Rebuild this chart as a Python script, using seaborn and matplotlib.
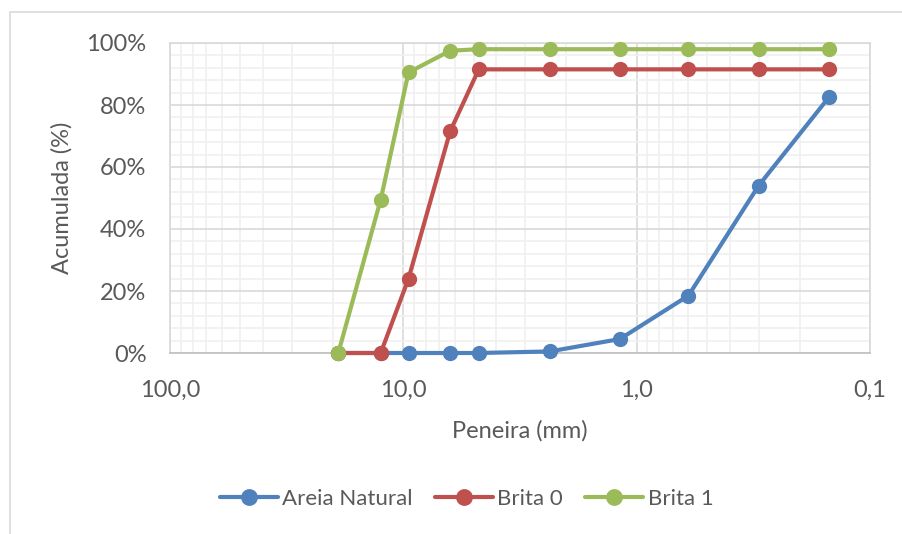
import matplotlib
matplotlib.use("Agg")
import matplotlib.pyplot as plt
import seaborn as sns
import pandas as pd
from matplotlib.ticker import FixedLocator, FuncFormatter, MultipleLocator, LogLocator, NullFormatter
from matplotlib.patches import Rectangle

# sieve openings (mm) and cumulative retained fraction
peneiras = [19.0, 12.5, 9.5, 6.3, 4.75, 2.36, 1.18, 0.6, 0.3, 0.15]
areia_natural = [0.0, 0.0, 0.0, 0.0, 0.0, 0.005, 0.045, 0.185, 0.54, 0.825]
brita_0 = [0.0, 0.0, 0.24, 0.715, 0.915, 0.915, 0.915, 0.915, 0.915, 0.915]
brita_1 = [0.0, 0.495, 0.905, 0.975, 0.98, 0.98, 0.98, 0.98, 0.98, 0.98]

series_names = ["Areia Natural", "Brita 0", "Brita 1"]
series_values = [areia_natural, brita_0, brita_1]
series_colors = ["#4F81BD", "#C0504D", "#9BBB59"]

x_ticks = [100, 10, 1, 0.1]
x_tick_labels = ["100,0", "10,0", "1,0", "0,1"]

sns.set_style("white")
plt.rcParams["font.family"] = ["Lato", "DejaVu Sans"]

fig = plt.figure(figsize=(9.02, 5.34), dpi=100)
ax = fig.add_axes([170 / 902, 1 - 353 / 534, 700 / 902, 310 / 534])

# outer chart border
fig.patches.append(Rectangle((10 / 902, -0.01), 1.0, 1 - 12 / 534 + 0.01,
                             transform=fig.transFigure, fill=False,
                             edgecolor="#D9D9D9", linewidth=1.2, zorder=0))

for name, vals, col in zip(series_names, series_values, series_colors):
    df = pd.DataFrame({"Peneira": peneiras, "Acumulada": vals})
    sns.lineplot(data=df, x="Peneira", y="Acumulada", ax=ax, color=col,
                 marker="o", markersize=11, linewidth=3, markeredgewidth=0,
                 label=name, clip_on=False, zorder=3)

ax.set_xscale("log")
ax.set_xlim(100, 0.1)
ax.set_ylim(0, 1)

ax.xaxis.set_major_locator(FixedLocator(x_ticks))
ax.xaxis.set_major_formatter(FuncFormatter(
    lambda v, p: dict(zip([round(t, 3) for t in x_ticks], x_tick_labels)).get(round(v, 3), "")))
ax.xaxis.set_minor_locator(LogLocator(base=10, subs=range(2, 10)))
ax.xaxis.set_minor_formatter(NullFormatter())
ax.yaxis.set_major_locator(MultipleLocator(0.2))
ax.yaxis.set_minor_locator(MultipleLocator(0.04))
ax.yaxis.set_major_formatter(FuncFormatter(lambda v, p: f"{v * 100:.0f}%"))

ax.grid(which="major", color="#D9D9D9", linewidth=1.2)
ax.grid(which="minor", color="#F0F0F0", linewidth=1.2)
ax.set_axisbelow(True)

for side in ["top", "right", "left", "bottom"]:
    ax.spines[side].set_visible(True)
    ax.spines[side].set_color("#D9D9D9")
    ax.spines[side].set_linewidth(1.2)
ax.spines["bottom"].set_color("#BFBFBF")

ax.tick_params(axis="both", which="both", length=0, labelsize=17, colors="#595959")
ax.tick_params(axis="x", pad=19)
ax.tick_params(axis="y", pad=17)
ax.set_xlabel("Peneira (mm)", fontsize=17, color="#595959", labelpad=14)
ax.set_ylabel("Acumulada (%)", fontsize=17, color="#595959", labelpad=10)

leg = ax.legend(loc="upper center", bbox_to_anchor=(0.424, -0.375), ncol=3, frameon=False,
                fontsize=16, handlelength=2.6, handletextpad=0.2, columnspacing=1.0,
                markerscale=1.1)
for t in leg.get_texts():
    t.set_color("#595959")

fig.savefig("out.png", dpi=100)
